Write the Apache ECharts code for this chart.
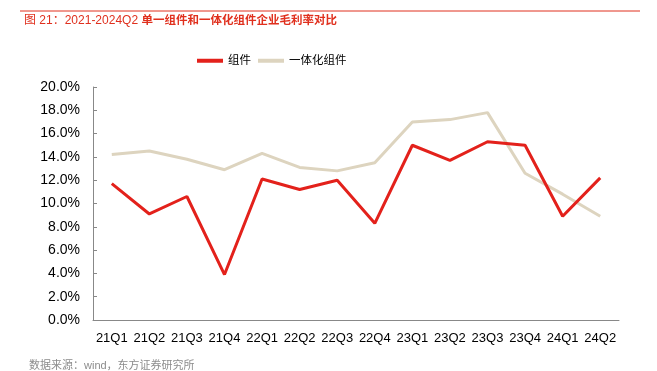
<!DOCTYPE html>
<html><head><meta charset="utf-8">
<script src="https://cdn.jsdelivr.net/npm/echarts@6/dist/echarts.min.js"></script>
<style>html,body{margin:0;padding:0;background:#fff}#c{width:657px;height:371px}</style>
</head><body><div id="c"></div>
<script>
var categories = ['21Q1','21Q2','21Q3','21Q4','22Q1','22Q2','22Q3','22Q4','23Q1','23Q2','23Q3','23Q4','24Q1','24Q2'];
var moduleMargin = [11.7, 9.1, 10.6, 3.9, 12.1, 11.2, 12.0, 8.3, 15.0, 13.7, 15.3, 15.0, 8.9, 12.2];
var integratedMargin = [14.2, 14.5, 13.8, 12.9, 14.3, 13.1, 12.8, 13.5, 17.0, 17.2, 17.8, 12.6, 10.8, 8.9];
var seriesNames = ['组件', '一体化组件'];
var titlePrefix = '图 21：2021-2024Q2 ';
var titleMain = '单一组件和一体化组件企业毛利率对比';
var sourceText = '数据来源：wind，东方证券研究所';

var chart = echarts.init(document.getElementById('c'));
var font = 'Arial, "Liberation Sans", "Noto Sans CJK SC", sans-serif';
chart.setOption({
  animation: false,
  textStyle: {fontFamily: font},
  graphic: [
    {type: 'line', shape: {x1: 20, y1: 11, x2: 640, y2: 11}, style: {stroke: '#e0301e', lineWidth: 1}},
    {type: 'text', left: 24, top: 15, style: {
      text: '{a|' + titlePrefix + '}{b|' + titleMain + '}',
      rich: {
        a: {fill: '#e0301e', fontSize: 12, fontFamily: font},
        b: {fill: '#e0301e', fontSize: 11.5, fontWeight: 'bold', fontFamily: font}
      }
    }},
    {type: 'text', left: 29, top: 360, style: {text: sourceText, fill: '#8c8c8c', font: '11px ' + font}}
  ],
  legend: {
    top: 50, left: 192, itemWidth: 26, itemHeight: 4, itemGap: 7,
    textStyle: {fontSize: 11.5, color: '#000'},
    icon: 'rect',
    data: seriesNames
  },
  grid: {left: 93, right: 38, top: 87, bottom: 51},
  xAxis: {
    type: 'category', data: categories, boundaryGap: true,
    axisLine: {lineStyle: {color: '#888'}},
    axisTick: {inside: true, length: 4, lineStyle: {color: '#888'}},
    axisLabel: {color: '#000', fontSize: 13, margin: 12, interval: 0}
  },
  yAxis: {
    type: 'value', min: 0, max: 20, interval: 2,
    axisLine: {show: true, lineStyle: {color: '#888'}},
    axisTick: {show: true, inside: true, length: 4, lineStyle: {color: '#888'}},
    splitLine: {show: false},
    axisLabel: {color: '#000', fontSize: 14, margin: 13, formatter: function(v){return v.toFixed(1) + '%';}}
  },
  series: [
    {name: seriesNames[0], type: 'line', data: moduleMargin, showSymbol: false, symbol: 'none',
     lineStyle: {color: '#e3211b', width: 3}, itemStyle: {color: '#e3211b'}, z: 3},
    {name: seriesNames[1], type: 'line', data: integratedMargin, showSymbol: false, symbol: 'none',
     lineStyle: {color: '#ddd4bf', width: 3}, itemStyle: {color: '#ddd4bf'}, z: 2}
  ]
});
</script></body></html>
